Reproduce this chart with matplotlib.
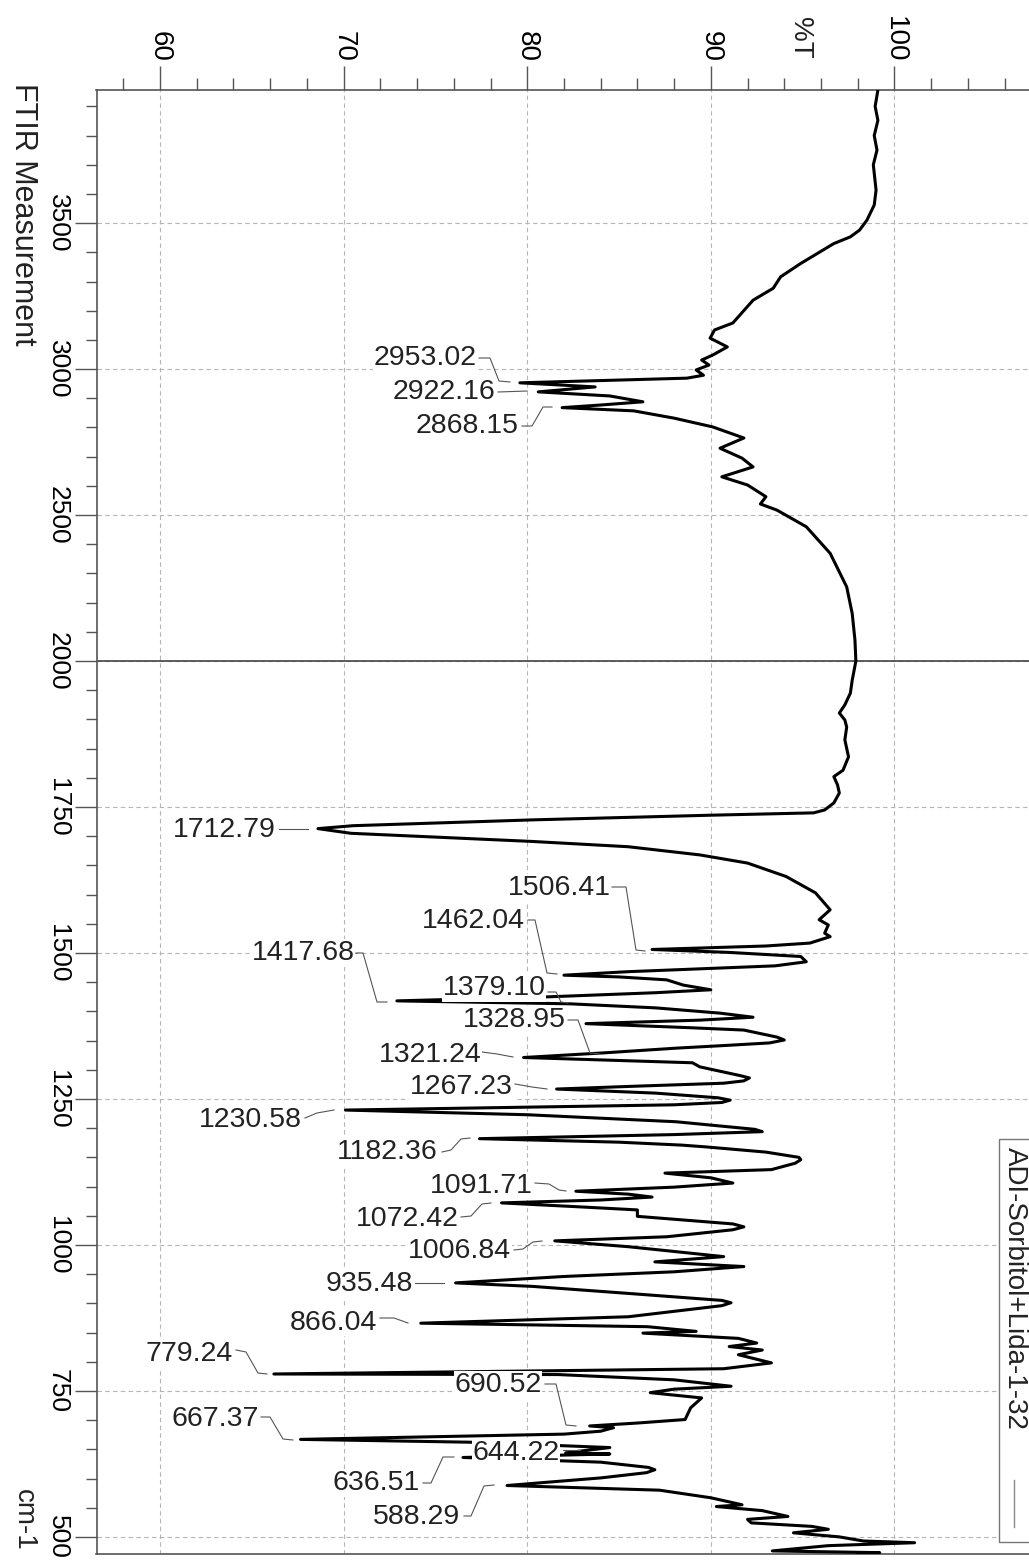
import numpy as np
import matplotlib
matplotlib.use('Agg')
import matplotlib.pyplot as plt
from matplotlib.ticker import FixedLocator, MultipleLocator, FuncFormatter
from matplotlib.lines import Line2D
from matplotlib.patches import Rectangle

plt.rcParams['font.family'] = ['Liberation Sans', 'DejaVu Sans']

# spectrum: wavenumber (cm-1) and %T
wavenumber = [3956, 3900, 3852, 3800, 3750, 3700, 3613, 3562, 3510, 3476, 3453, 3430,
              3362, 3316, 3277, 3236, 3158, 3134, 3106, 3076, 3048, 3031, 3014, 2997,
              2979, 2969, 2953, 2939, 2922, 2908, 2888, 2877, 2868, 2857, 2832, 2802,
              2764, 2729, 2695, 2665, 2631, 2603, 2563, 2538, 2517, 2460, 2369, 2254,
              2163, 2072, 2000, 1967, 1945, 1925, 1911, 1899, 1887, 1865, 1836, 1813,
              1802, 1788, 1774, 1757, 1745, 1740, 1736, 1728, 1718, 1713, 1705, 1691,
              1682, 1668, 1654, 1631, 1603, 1574, 1557, 1548, 1534, 1528, 1517, 1512,
              1506, 1501, 1494, 1485, 1478, 1468, 1462, 1459, 1454, 1445, 1437, 1432,
              1425, 1418, 1413, 1406, 1397, 1390, 1385, 1379, 1372, 1368, 1356, 1351,
              1346, 1342, 1337, 1329, 1321, 1312, 1305, 1290, 1286, 1281, 1277, 1272,
              1267, 1260, 1252, 1248, 1244, 1240, 1231, 1223, 1211, 1198, 1194, 1189,
              1182, 1176, 1171, 1168, 1159, 1150, 1146, 1140, 1129, 1123, 1115, 1106,
              1099, 1092, 1087, 1082, 1077, 1072, 1065, 1060, 1049, 1036, 1031, 1026,
              1014, 1007, 997, 980, 971, 963, 954, 946, 935, 929, 917, 905,
              901, 896, 877, 866, 860, 852, 849, 840, 832, 826, 820, 812,
              798, 788, 779, 778, 769, 758, 753, 747, 738, 721, 701, 695,
              690, 687, 681, 676, 667, 662, 653, 644, 642, 636, 628, 619,
              615, 610, 601, 588, 580, 567, 555, 552, 545, 535, 530, 524,
              518, 513, 507, 500, 493, 490, 485, 476, 473, 471]
transmittance = [99.1, 98.95, 99.1, 98.9, 99.05, 98.85, 99.0, 98.9, 98.5, 98.1, 97.6, 96.7,
                 94.9, 93.8, 93.4, 92.3, 91.2, 90.2, 89.96, 90.9, 90.1, 89.5, 89.9, 89.2,
                 89.6, 88.7, 79.6, 83.7, 80.6, 84.5, 86.3, 84.0, 81.9, 85.8, 88.0, 90.1,
                 91.8, 90.5, 91.7, 92.3, 90.6, 92.0, 93.0, 92.7, 93.6, 95.2, 96.5, 97.4,
                 97.7, 97.85, 97.9, 97.7, 97.6, 97.3, 97.0, 97.3, 97.4, 97.3, 97.5, 97.2,
                 96.7, 96.9, 97.0, 96.7, 96.2, 95.6, 90.0, 80.3, 70.5, 68.6, 70.4, 80.3,
                 85.5, 89.4, 92.0, 94.1, 95.7, 96.5, 95.9, 96.4, 96.2, 96.5, 95.4, 93.0,
                 86.8, 91.0, 94.9, 95.2, 93.5, 85.5, 82.0, 85.0, 87.6, 88.5, 90.0, 87.0,
                 81.2, 72.9, 82.3, 87.0, 90.5, 92.3, 89.4, 83.2, 88.9, 91.8, 93.6, 94.0,
                 93.2, 91.0, 88.1, 84.2, 79.8, 89.0, 89.4, 91.6, 92.1, 91.8, 90.7, 86.0,
                 81.6, 87.0, 90.4, 91.05, 90.6, 88.0, 70.1, 80.0, 88.1, 92.4, 92.8, 88.0,
                 77.4, 85.0, 88.4, 89.7, 93.0, 94.8, 94.9, 94.6, 93.3, 87.5, 90.0, 91.2,
                 88.0, 82.65, 85.5, 86.8, 84.0, 78.6, 83.0, 86.0, 86.0, 91.2, 91.8, 91.2,
                 87.6, 81.5, 85.5, 90.7, 86.95, 91.8, 88.0, 82.0, 76.1, 80.3, 85.5, 90.6,
                 91.1, 90.6, 85.5, 74.2, 86.55, 89.2, 86.3, 91.5, 92.5, 91.0, 92.8, 91.5,
                 93.3, 90.7, 66.2, 81.7, 88.0, 91.1, 88.0, 86.7, 89.5, 88.9, 88.6, 86.0,
                 83.4, 84.7, 84.0, 82.0, 67.65, 77.2, 84.5, 82.1, 84.5, 76.5, 84.0, 86.6,
                 86.95, 86.5, 84.0, 78.9, 87.2, 90.0, 91.7, 90.3, 92.8, 94.2, 92.0, 92.2,
                 95.5, 96.4, 94.5, 97.0, 98.3, 101.1, 96.4, 93.35, 99.2, 98.0]

series_name = 'ADI-Sorbitol+Lida-1-32'

major_wn = [500, 750, 1000, 1250, 1500, 1750, 2000, 2500, 3000, 3500]
minor_wn = [w for w in range(550, 2000, 50) if w not in major_wn] + \
           [w for w in range(2100, 4000, 100) if w not in major_wn]
major_t = [60, 70, 80, 90, 100]

# peak labels: text, label centre (px), leader path (px)
peak_labels = ['2953.02', '2922.16', '2868.15', '1712.79', '1506.41', '1462.04',
               '1417.68', '1379.10', '1328.95', '1321.24', '1267.23', '1230.58',
               '1182.36', '1091.71', '1072.42', '1006.84', '935.48', '866.04',
               '779.24', '690.52', '667.37', '644.22', '636.51', '588.29']
label_pos = [(425.5, 358), (444, 392), (467.5, 426), (224, 830), (559, 888), (473, 921.5),
             (303, 953), (494, 988), (514, 1020), (430, 1055), (461.5, 1087.5), (250.5, 1120),
             (387, 1152), (481.5, 1186), (407, 1219), (459.5, 1251), (369, 1284), (333, 1322.5),
             (189.5, 1354), (498, 1385), (215, 1419), (516, 1452.5), (375.7, 1483), (416.5, 1516.7)]
leaders = [
    [(479, 358), (490, 358), (499, 381), (510, 382)],
    [(498, 392), (527, 391)],
    [(522, 426), (532, 426), (543, 407), (552, 407)],
    [(279, 829), (308, 829)],
    [(612, 887), (626, 887), (636, 950), (645, 951)],
    [(528, 920), (535, 920), (547, 973), (557, 974)],
    [(356, 953), (363, 953), (377, 1002), (387, 1002)],
    [(548, 992), (556, 992), (561, 1002), (568, 1003)],
    [(568, 1020), (578, 1020), (590, 1053), (600, 1054)],
    [(482, 1052), (497, 1054), (513, 1057)],
    [(515, 1084), (532, 1087), (547, 1089)],
    [(305, 1118), (317, 1113), (334, 1110)],
    [(442, 1152), (451, 1150), (461, 1139), (470, 1138)],
    [(535, 1183), (549, 1184), (559, 1190), (566, 1191)],
    [(461, 1217), (471, 1216), (482, 1204), (491, 1203)],
    [(514, 1250), (523, 1249), (533, 1242), (542, 1241)],
    [(415, 1283), (444, 1283)],
    [(380, 1318), (394, 1318), (408, 1323)],
    [(236, 1350), (246, 1352), (258, 1373), (267, 1374)],
    [(545, 1384), (556, 1384), (566, 1425), (576, 1426)],
    [(261, 1417), (270, 1417), (283, 1439), (293, 1440)],
    [(563, 1450), (580, 1450)],
    [(423, 1483), (431, 1483), (443, 1457), (454, 1457)],
    [(464, 1516), (471, 1516), (484, 1486), (494, 1485)],
]

W, H = 1029, 1562
fig = plt.figure(figsize=(W / 100, H / 100), dpi=100)


def fx(px):
    return px / W


def fy(py):
    return 1 - py / H


def fwd(w):
    w = np.asarray(w, dtype=float)
    return np.where(w > 2000, 2000 + (w - 2000) / 2, w)


def inv(u):
    u = np.asarray(u, dtype=float)
    return np.where(u > 2000, 2000 + (u - 2000) * 2, u)


left_px, top_px, bottom_px = 96.5, 90, 1554
t_lo, t_hi = 56.54, 110
ax = fig.add_axes([fx(left_px), fy(bottom_px), (t_hi - t_lo) * 18.36 / W, (bottom_px - top_px) / H])
ax.set_yscale('function', functions=(fwd, inv))
ax.set_ylim(470.7, 3956)
ax.set_xlim(t_lo, t_hi)

ax.plot(transmittance, wavenumber, color='black', lw=2.2, solid_joinstyle='round', zorder=3)
ax.axhline(2000, color='#444444', lw=1.2, zorder=2)

ax.yaxis.set_major_locator(FixedLocator(major_wn))
ax.yaxis.set_minor_locator(FixedLocator(minor_wn))
ax.yaxis.set_major_formatter(FuncFormatter(lambda v, p: f'{v:.0f}'))
ax.xaxis.tick_top()
ax.xaxis.set_major_locator(FixedLocator(major_t))
ax.xaxis.set_minor_locator(MultipleLocator(2))
ax.xaxis.set_major_formatter(FuncFormatter(lambda v, p: f'{v:.0f}'))

ax.grid(which='major', color='#b5b5b5', linestyle=(0, (4, 3)), linewidth=0.8, zorder=1)
for s in ax.spines.values():
    s.set_color('#555555')
    s.set_linewidth(1.2)

ax.tick_params(axis='y', which='major', direction='out', length=16, width=1, color='#555555',
               labelsize=19, pad=3, labelrotation=270)
ax.tick_params(axis='y', which='minor', direction='out', length=8, width=1, color='#555555')
ax.tick_params(axis='x', which='major', direction='out', length=17, width=1, color='#555555',
               labelsize=20, pad=3, labelrotation=270)
ax.tick_params(axis='x', which='minor', direction='out', length=8.5, width=1, color='#555555')
for lab in ax.get_yticklabels():
    lab.set_va('center')
    lab.set_ha('right')
for lab in ax.get_xticklabels():
    lab.set_ha('center')
    lab.set_va('bottom')

fig.text(fx(800), fy(38), '%T', rotation=270, ha='center', va='center', fontsize=20, color='#222222')
fig.text(fx(23), fy(83), 'FTIR Measurement', rotation=270, ha='center', va='top', fontsize=22,
         color='#222222')
fig.text(fx(24), fy(1520), 'cm-1', rotation=270, ha='center', va='center', fontsize=20, color='#222222')

for txt, (px, py), path in zip(peak_labels, label_pos, leaders):
    xs = [fx(p[0]) for p in path]
    ys = [fy(p[1]) for p in path]
    fig.add_artist(Line2D(xs, ys, color='#555555', lw=0.8, zorder=4))
    fig.text(fx(px), fy(py), txt, ha='center', va='center', fontsize=20.5, color='#222222',
             zorder=5, bbox=dict(facecolor='white', edgecolor='none', pad=0.6))

# legend box (cut by the right edge like the reference)
fig.add_artist(Rectangle((fx(999), fy(1542)), fx(60), (1542 - 1139) / H, transform=fig.transFigure,
                         facecolor='white', edgecolor='#777777', lw=1.0, zorder=6))
fig.text(fx(1015), fy(1147), series_name, rotation=270, ha='center', va='top', fontsize=20,
         color='#222222', zorder=7)
fig.add_artist(Line2D([fx(1014), fx(1014)], [fy(1480), fy(1527)], color='#888888', lw=1.0, zorder=7))

fig.savefig('out.png', dpi=100)
